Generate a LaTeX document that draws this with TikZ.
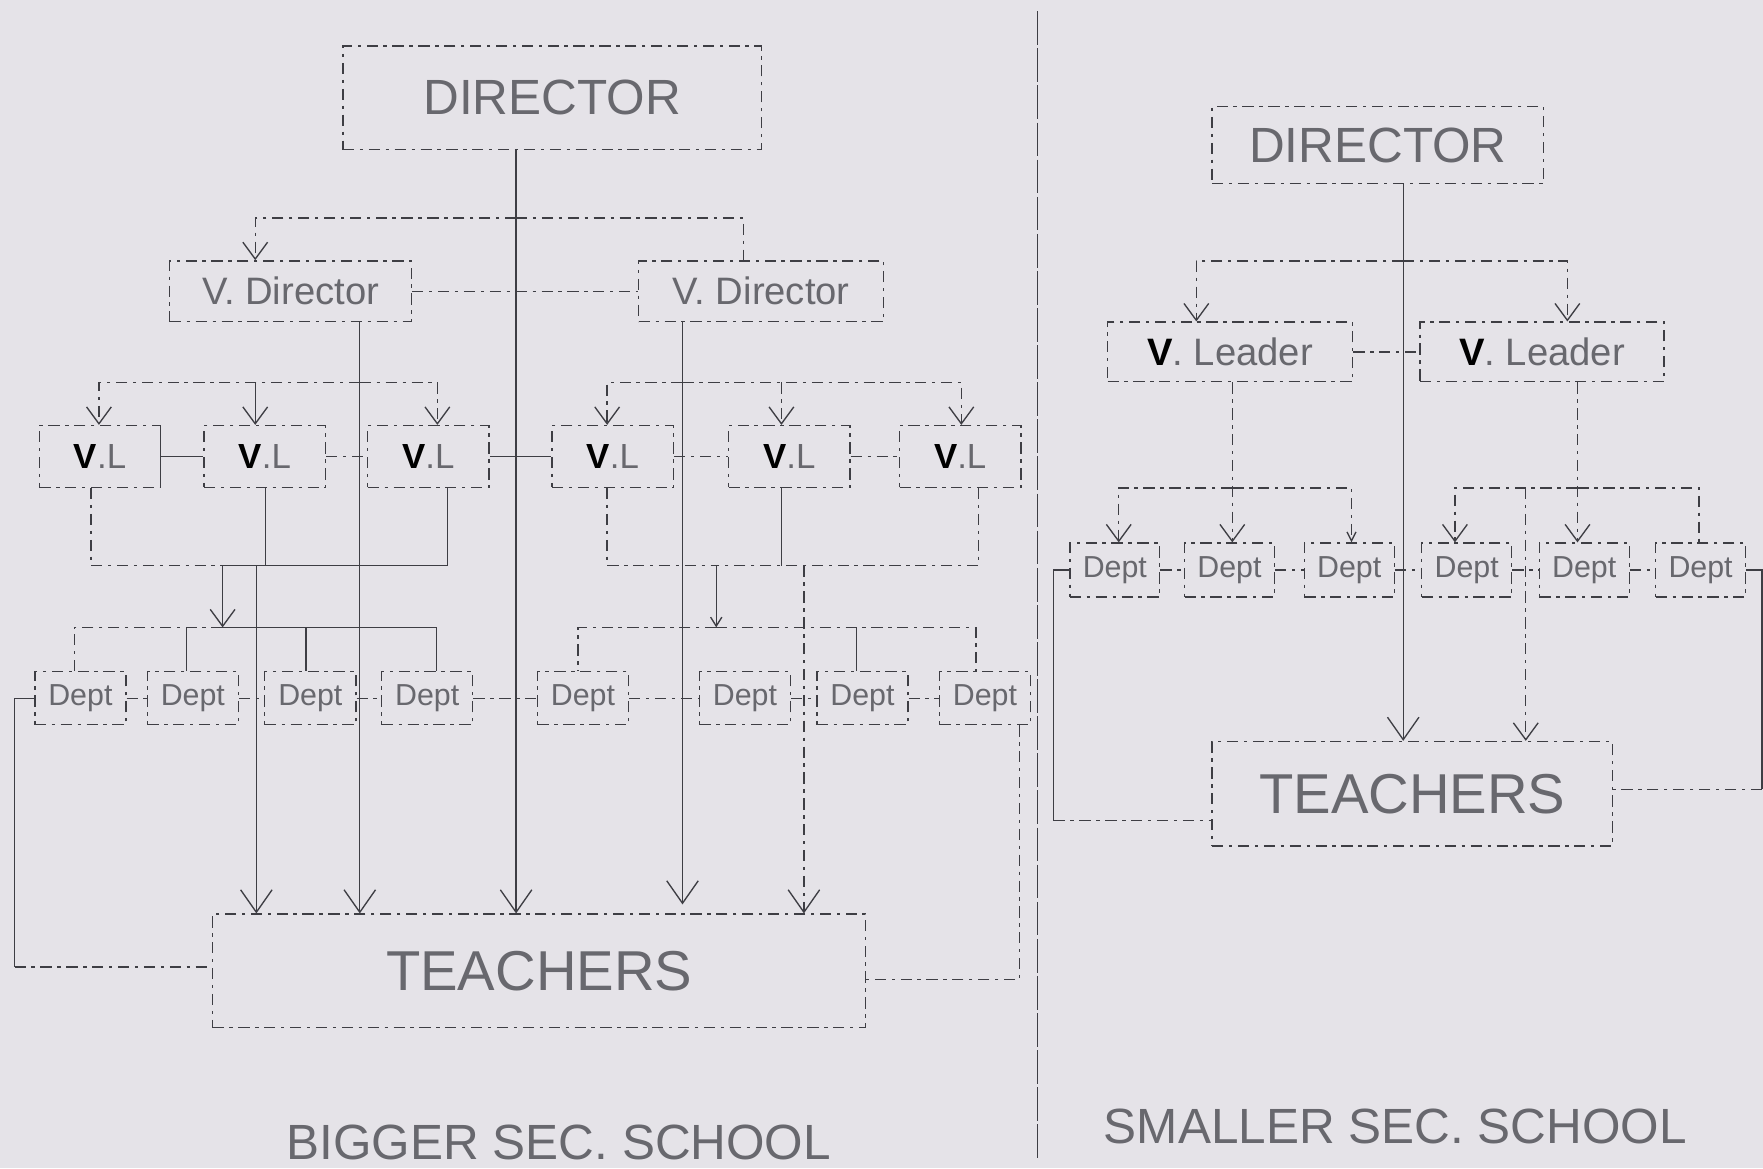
\documentclass[tikz,border=0pt]{standalone}
\usepackage{fontspec}
\setmainfont{Liberation Sans}
\usetikzlibrary{arrows.meta}
\definecolor{bg}{RGB}{229,227,232}
\definecolor{lc}{RGB}{62,62,68}
\definecolor{tc}{RGB}{104,104,110}
\newcommand\fDir{\fontsize{44}{50}\selectfont}
\newcommand\fVD{\fontsize{34}{40}\selectfont}
\newcommand\fVL{\fontsize{31}{36}\selectfont}
\newcommand\fDp{\fontsize{27}{31}\selectfont}
\newcommand\fTe{\fontsize{50}{56}\selectfont}
\newcommand\fLab{\fontsize{44}{50}\selectfont}
\newcommand\bV{{\bfseries\color{black}V}}
\tikzset{
  dd/.style={draw=lc,line width=1.2pt,dash pattern=on 10pt off 5pt on 3pt off 5pt},
  sl/.style={draw=lc,line width=1.2pt},
  box/.style={dd,inner sep=0pt,text=tc},
  arr/.style={-{Straight Barb[length=20pt,width=28pt,line width=1.2pt]}},
  sarr/.style={-{Straight Barb[length=15pt,width=22pt,line width=1.2pt]}},
}
\begin{document}
\begin{tikzpicture}[x=1pt,y=-1pt]
\fill[bg] (0,0) rectangle (1568,1039);
\useasboundingbox (0,0) rectangle (1568,1039);

% ===== LEFT: BIGGER SEC. SCHOOL =====
\node[box,minimum width=372pt,minimum height=92pt,font=\fDir] (dirL) at (491,87) {DIRECTOR};
\node[box,minimum width=215pt,minimum height=54pt,font=\fVD] (vdL1) at (258.5,259) {V. Director};
\node[box,minimum width=218pt,minimum height=54pt,font=\fVD] (vdL2) at (677,259) {V. Director};
\foreach \n/\x in {1/89,2/235.5,3/381,4/545,5/702,6/854}
  \node[box,minimum width=108pt,minimum height=55pt,font=\fVL] (vl\n) at (\x,406) {\bV.L};
\foreach \n/\x in {1/71.5,2/171.5,3/276,4/380,5/518.5,6/662.5,7/767,8/876}
  \node[box,minimum width=81pt,minimum height=47pt,font=\fDp] (dp\n) at (\x,621) {Dept};
\node[box,minimum width=581pt,minimum height=101pt,font=\fTe] (tL) at (479.5,863.5) {TEACHERS};
\node[text=tc,font=\fLab,anchor=base] (labL) at (497,1031) {BIGGER SEC. SCHOOL};

\coordinate (jD) at (459,194);
\coordinate (jV1) at (320,340);
\coordinate (jV2) at (607,340);
\coordinate (jB1) at (198,503);
\coordinate (jB2) at (637,503);
\coordinate (jD1) at (198,558);
\coordinate (jD2) at (637,558);
\coordinate (fL) at (13,860);
\coordinate (fR) at (907,871);

\draw[sl,arr] (dirL.south -| jD) -- (tL.north -| jD);
\draw[dd,sarr] (jD) -| (vdL1.north -| 227,0);
\draw[dd] (jD) -| (vdL2.north -| 661,0);
\draw[dd] (vdL1.east) -- (vdL2.west);
\draw[sl,arr] (vdL1.south -| jV1) -- (tL.north -| jV1);
\draw[sl,arr,shorten >=8pt] (vdL2.south -| jV2) -- (tL.north -| jV2);

\draw[dd,sarr] (jV1) -| (vl1.north -| 88,0);
\draw[dd,sarr] (jV1) -| (vl3.north -| 389,0);
\draw[sl,sarr] (jV1 -| 227,0) -- (vl2.north -| 227,0);
\draw[dd,sarr] (jV2) -| (vl4.north -| 540,0);
\draw[dd,sarr] (jV2) -| (vl6.north -| 855,0);
\draw[dd,sarr] (jV2 -| 695,0) -- (vl5.north -| 695,0);

\draw[sl] (vl1.east) -- (vl2.west);
\draw[sl] (143,379) -- (143,433);
\draw[dd] (vl2.east) -- (vl3.west);
\draw[sl] (vl3.east) -- (vl4.west);
\draw[dd] (vl4.east) -- (vl5.west);
\draw[dd] (vl5.east) -- (vl6.west);

\draw[dd] (vl1.south -| 81,0) |- (jB1);
\draw[sl] (vl3.south -| 398,0) |- (jB1);
\draw[sl] (vl2.south -| 236,0) -- (jB1 -| 236,0);
\draw[sl,sarr] (jB1) -- (jD1);
\draw[sl,arr] (jB1 -| 228,0) -- (tL.north -| 228,0);
\draw[dd] (vl4.south -| 540,0) |- (jB2);
\draw[dd] (vl6.south -| 870,0) |- (jB2);
\draw[sl] (vl5.south -| 695,0) -- (jB2 -| 695,0);
\draw[sl,-{Straight Barb[length=8pt,width=10pt,line width=1.2pt]}] (jB2) -- (jD2);
\draw[dd,arr] (jB2 -| 715,0) -- (tL.north -| 715,0);

\draw[dd] (jD1) -| (dp1.north -| 66,0);
\draw[sl] (jD1) -| (dp4.north -| 388,0);
\draw[sl] (jD1 -| 166,0) -- (dp2.north -| 166,0);
\draw[sl] (jD1 -| 272,0) -- (dp3.north -| 272,0);
\draw[dd] (jD2) -| (dp5.north -| 514,0);
\draw[dd] (jD2) -| (dp8.north -| 868,0);
\draw[sl] (jD2 -| 762,0) -- (dp7.north -| 762,0);

\foreach \a/\b in {1/2,2/3,3/4,4/5,5/6,6/7,7/8}
  \draw[dd] (dp\a.east) -- (dp\b.west);

\draw[sl] (dp1.west) -| (fL);
\draw[dd] (fL) -- (fL -| tL.west);
\draw[dd] (dp8.south -| fR) -- (fR) -- (fR -| tL.east);

% divider
\draw[dd,dash pattern=on 30pt off 3pt] (923,10) -- (923,1030);

% ===== RIGHT: SMALLER SEC. SCHOOL =====
\node[box,minimum width=295pt,minimum height=68pt,font=\fDir] (dirR) at (1225.5,129) {DIRECTOR};
\node[box,minimum width=218pt,minimum height=53pt,font=\fVD] (vR1) at (1094,313) {\bV. Leader};
\node[box,minimum width=217pt,minimum height=53pt,font=\fVD] (vR2) at (1371.5,313) {\bV. Leader};
\foreach \n/\x in {1/991.5,2/1093.5,3/1200,4/1304.5,5/1409,6/1512.5}
  \node[box,minimum width=80pt,minimum height=48pt,font=\fDp] (dR\n) at (\x,507) {Dept};
\node[box,minimum width=356pt,minimum height=93pt,font=\fTe] (tR) at (1256,706) {TEACHERS};
\node[text=tc,font=\fLab,anchor=base] (labR) at (1241,1017) {SMALLER SEC. SCHOOL};

\coordinate (jR) at (1248,232);
\coordinate (jR1) at (1096,434);
\coordinate (jR2) at (1403,434);
\coordinate (gL) at (937,730);
\coordinate (gR) at (1567,702);

\draw[sl,arr] (dirR.south -| jR) -- (tR.north -| jR);
\draw[dd,sarr] (jR) -| (vR1.north -| 1064,0);
\draw[dd,sarr] (jR) -| (vR2.north -| 1394,0);
\draw[dd] (vR1.east) -- (vR2.west);

\draw[dd,sarr] (vR1.south -| jR1) -- (dR2.north -| jR1);
\draw[dd,sarr] (jR1) -| (dR1.north -| 995,0);
\draw[dd,-{Straight Barb[length=8pt,width=8pt,line width=1.2pt]}] (jR1) -| (dR3.north -| 1202,0);
\draw[dd,sarr] (vR2.south -| jR2) -- (dR5.north -| jR2);
\draw[dd,sarr] (jR2) -| (dR4.north -| 1294,0);
\draw[dd] (jR2) -| (dR6.north -| 1511,0);
\draw[dd,sarr] (jR2 -| 1357,0) -- (tR.north -| 1357,0);

\foreach \a/\b in {1/2,2/3,3/4,4/5,5/6}
  \draw[dd] (dR\a.east) -- (dR\b.west);

\draw[sl] (dR1.west) -| (gL);
\draw[dd] (gL) -- (gL -| tR.west);
\draw[sl] (dR6.east) -| (gR);
\draw[dd] (gR) -- (gR -| tR.east);
\end{tikzpicture}
\end{document}
